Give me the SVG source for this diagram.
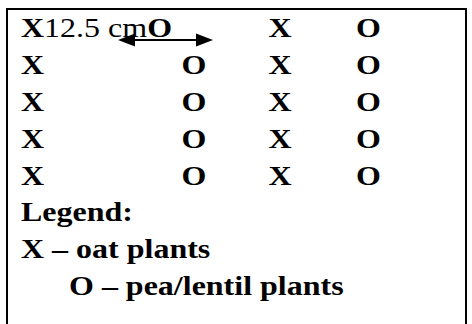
<svg xmlns="http://www.w3.org/2000/svg" width="472" height="324" viewBox="0 0 472 324">
<style>
text{font-family:"Liberation Serif","Times New Roman",serif;font-size:32px;font-weight:bold;fill:#000}
.r{font-weight:normal}
.head{fill:#000;stroke:none}
</style>
<rect id="frame" x="7" y="9" width="459" height="340" fill="#fff" stroke="#000" stroke-width="2"/>
<g id="grid" transform="scale(1 0.85)">
<text x="21" y="43.9">X<tspan class="r">12.5 cm</tspan>O</text>
<text x="268.5" y="43.9">X</text>
<text x="356" y="43.9">O</text>
<text x="21" y="87.2">X</text><text x="181.5" y="87.2">O</text><text x="268.5" y="87.2">X</text><text x="356" y="87.2">O</text>
<text x="21" y="130.5">X</text><text x="181.5" y="130.5">O</text><text x="268.5" y="130.5">X</text><text x="356" y="130.5">O</text>
<text x="21" y="173.8">X</text><text x="181.5" y="173.8">O</text><text x="268.5" y="173.8">X</text><text x="356" y="173.8">O</text>
<text x="21" y="217.1">X</text><text x="181.5" y="217.1">O</text><text x="268.5" y="217.1">X</text><text x="356" y="217.1">O</text>
</g>
<g id="legend" transform="scale(1 0.85)">
<text x="21" y="260.4">Legend:</text>
<text x="21" y="303.6">X – oat plants</text>
<text x="69" y="346.9">O – pea/lentil plants</text>
</g>
<g id="connectors">
<line x1="130" y1="40" x2="201" y2="40" stroke="#000" stroke-width="2.2"/>
<path class="head" d="M118,40 L135,33.5 L135,46.5 z"/>
<path class="head" d="M213,40 L196,33.5 L196,46.5 z"/>
</g>
</svg>
